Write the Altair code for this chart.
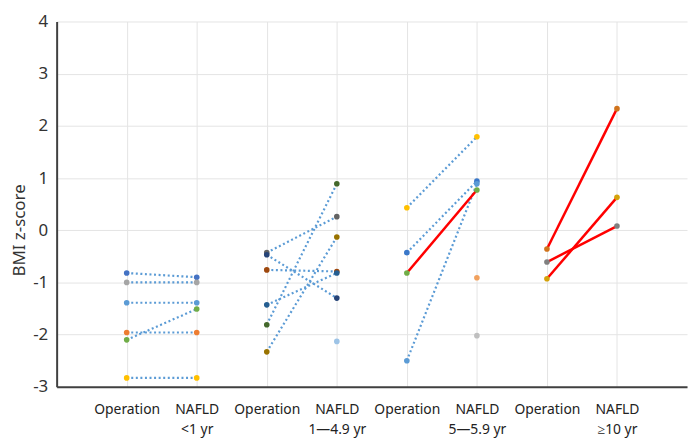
import json
import altair as alt
import pandas as pd

# ---- data ----
x_labels = ["Operation", "NAFLD|<1 yr", "Operation", "NAFLD|1\u20144.9 yr",
            "Operation", "NAFLD|5\u20145.9 yr", "Operation", "NAFLD|\u226510 yr"]

# paired patients: operation position, NAFLD position, values, colour, line style
pair_op_pos = [1, 1, 1, 1, 1, 1,
               3, 3, 3, 3, 3, 3,
               5, 5, 5, 5,
               7, 7, 7]
pair_op_val = [-0.82, -1.00, -1.39, -2.10, -1.96, -2.83,
               -0.43, -0.47, -0.76, -1.43, -1.81, -2.33,
               0.43, -0.43, -0.82, -2.50,
               -0.36, -0.61, -0.93]
pair_nafld_val = [-0.90, -1.00, -1.39, -1.51, -1.96, -2.83,
                  0.26, -1.30, -0.79, -0.82, 0.89, -0.13,
                  1.79, 0.94, 0.77, 0.89,
                  2.33, 0.08, 0.63]
pair_color = ["#4472C4", "#A5A5A5", "#5B9BD5", "#70AD47", "#ED7D31", "#FFC000",
              "#636363", "#264478", "#9E480E", "#255E91", "#43682B", "#997300",
              "#FFC000", "#3A78C9", "#70AD47", "#5B9BD5",
              "#D0731C", "#808080", "#D4A20A"]
pair_style = ["dotted"] * 6 + ["dotted"] * 6 + ["dotted", "dotted", "red", "dotted"] + ["red"] * 3

# unpaired NAFLD points
single_pos = [4, 6, 6]
single_val = [-2.13, -0.91, -2.02]
single_color = ["#9DC3E6", "#F1A15E", "#BFBFBF"]

# ---- build table ----
rows = []
for i, (p, a, b, c, s) in enumerate(zip(pair_op_pos, pair_op_val, pair_nafld_val, pair_color, pair_style)):
    rows.append(dict(pid=i, x=p, y=a, color=c, style=s))
    rows.append(dict(pid=i, x=p + 1, y=b, color=c, style=s))
lines = pd.DataFrame(rows)
singles = pd.DataFrame(dict(pid=[100 + k for k in range(len(single_pos))], x=single_pos,
                            y=single_val, color=single_color, style="none"))
points = pd.concat([lines, singles], ignore_index=True)

FONT = "Noto Sans"
label_expr = "split(" + json.dumps(x_labels) + "[datum.value - 1], '|')"

x_enc = alt.X("x:Q", scale=alt.Scale(domain=[0, 9], nice=False, zero=False),
              axis=alt.Axis(values=list(range(1, 9)), labelExpr=label_expr, title=None,
                            grid=True, gridColor="#E4E4E4", ticks=False,
                            domainColor="#404040", domainWidth=2,
                            labelFont=FONT, labelFontSize=14, labelColor="#222222",
                            labelPadding=16, labelLineHeight=20, labelBaseline="top"))
y_enc = alt.Y("y:Q", scale=alt.Scale(domain=[-3, 4], nice=False),
              axis=alt.Axis(values=list(range(-3, 5)), labelExpr="toString(datum.value)",
                            title="BMI z-score", grid=True,
                            gridColor="#E4E4E4", ticks=False, domainColor="#404040",
                            domainWidth=2, labelFont=FONT, labelFontSize=17,
                            labelColor="#333333", labelPadding=9, titleFont=FONT,
                            titleFontSize=17, titleFontWeight="normal",
                            titleColor="#333333", titleX=-28, titleY=210))

base = alt.Chart(lines)
dotted = base.transform_filter(alt.datum.style == "dotted").mark_line(
    color="#5B9BD5", strokeWidth=2.2, strokeDash=[2, 2.6], strokeCap="butt"
).encode(x=x_enc, y=y_enc, detail="pid:N")
red = base.transform_filter(alt.datum.style == "red").mark_line(
    color="#FF0000", strokeWidth=2.5
).encode(x="x:Q", y="y:Q", detail="pid:N")
pts = alt.Chart(points).mark_circle(size=32, opacity=1).encode(
    x="x:Q", y="y:Q", color=alt.Color("color:N", scale=None)
)

chart = alt.layer(dotted, red, pts).properties(
    width=635, height=368,
    autosize=alt.AutoSizeParams(type="none"),
    padding={"left": 49, "top": 12, "right": 2, "bottom": 50},
).configure_view(stroke=None)

chart.save("out.html", embed_options={"renderer": "svg", "actions": False})
